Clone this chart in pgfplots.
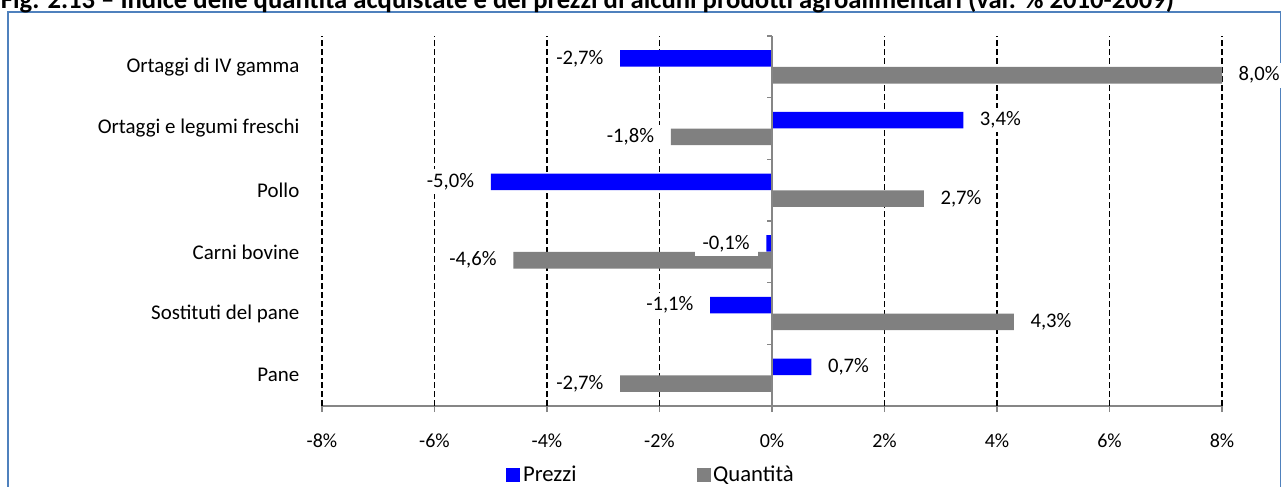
\documentclass[border=0pt]{standalone}
\usepackage{fontspec}
\setmainfont{Carlito}
\usepackage{pgfplots}
\pgfplotsset{compat=1.18}

\definecolor{prezzi}{HTML}{0000FF}
\definecolor{quant}{HTML}{808080}
\definecolor{axgray}{HTML}{868686}
\definecolor{frame}{HTML}{4F81BD}

\begin{document}
\begin{tikzpicture}
% page = 1282 x 486 px, 1 px = 0.75 pt, origin top left
\useasboundingbox (0pt,0pt) rectangle (961.5pt,-364.5pt);
\clip (0pt,0pt) rectangle (961.5pt,-364.5pt);
\draw[frame, line width=0.8pt] (6pt,-370pt) -- (6pt,-9pt) -- (960.5pt,-9pt) -- (960.5pt,-370pt);
\node[anchor=base west, inner sep=0pt, font=\bfseries\fontsize{20}{23}\selectfont]
  at (0.5pt,-6.5pt) {Fig. 2.13 – Indice delle quantità acquistate e dei prezzi di alcuni prodotti agroalimentari (var. \% 2010-2009)};

\begin{axis}[
    at={(241.5pt,-304.5pt)}, anchor=south west,
    scale only axis,
    width=675pt, height=277.5pt,
    xbar,
    bar width=12.4pt,
    xmin=-8, xmax=8,
    ymin=-0.5, ymax=5.5,
    clip=false,
    font=\fontsize{15}{18}\selectfont,
    /pgf/number format/assume math mode=true,
    /pgf/number format/use comma,
    axis x line*=bottom,
    axis y line*=left,
    y axis line style={draw=none},
    x axis line style={axgray, line width=0.9pt},
    xtick={-8,-6,...,8},
    xticklabel={\pgfmathprintnumber{\tick}\%},
    tick align=outside,
    major tick length=4.5pt,
    x tick style={axgray, line width=0.9pt},
    xticklabel style={yshift=-12.5pt},
    extra x ticks={-8,-6,-4,-2,2,4,6,8},
    extra x tick labels={},
    extra x tick style={grid=major, major tick length=0pt},
    major grid style={black, line width=1.3pt, dash pattern=on 4.5pt off 2.25pt},
    ytick={0,1,2,3,4,5},
    yticklabels={Pane, Sostituti del pane, Carni bovine, Pollo, Ortaggi e legumi freschi, Ortaggi di IV gamma},
    y tick style={draw=none},
    yticklabel style={anchor=east, xshift=-9pt, font=\fontsize{15.7}{18}\selectfont},
    nodes near coords={\pgfmathprintnumber[fixed, fixed zerofill, precision=1]{\pgfplotspointmeta}\%},
    nodes near coords align=horizontal,
    point meta=x,
    every node near coord/.append style={fill=white, inner xsep=6pt, inner ysep=3pt, outer xsep=6.5pt, text=black, font=\fontsize{15.5}{18}\selectfont},
    legend columns=2,
    legend style={at={(0.366,0)}, anchor=center, yshift=-51.5pt, draw=none, fill=none,
        font=\fontsize{17}{19}\selectfont,
        nodes={inner ysep=1pt},
        /tikz/every even column/.append style={column sep=88pt}},
    legend image code/.code={\fill[#1] (0pt,-5.25pt) rectangle (10.5pt,5.25pt);},
]
\addplot[fill=prezzi, draw=none, bar shift=6.3pt] coordinates {
    (0.7,0) (-1.1,1) (-0.1,2) (-5.0,3) (3.4,4) (-2.7,5)
};
\addplot[fill=quant, draw=none, bar shift=-6.3pt] coordinates {
    (-2.7,0) (4.3,1) (-4.6,2) (2.7,3) (-1.8,4) (8.0,5)
};
\legend{Prezzi, Quantità}
\draw[axgray, line width=0.9pt] (axis cs:0,-0.5) -- (axis cs:0,5.5);
\pgfplotsinvokeforeach{-0.5,0.5,1.5,2.5,3.5,4.5,5.5}{
    \draw[axgray, line width=0.9pt] (axis cs:0,#1) -- ++(-3.75pt,0pt);
}
\end{axis}
\end{tikzpicture}
\end{document}
